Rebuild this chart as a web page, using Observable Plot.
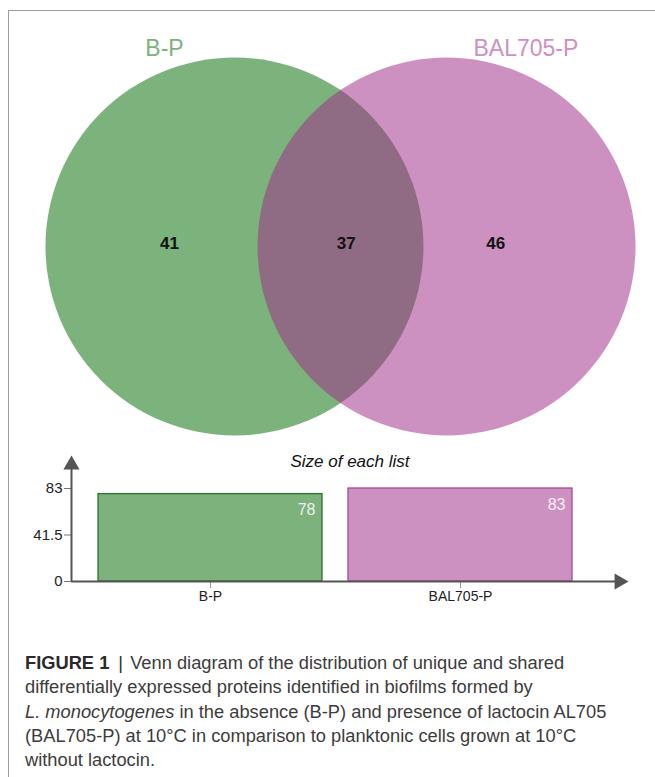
<!DOCTYPE html>
<html><head><meta charset="utf-8">
<script src="https://cdn.jsdelivr.net/npm/d3@7"></script>
<script src="https://cdn.jsdelivr.net/npm/@observablehq/plot@0.6"></script>
<style>
body{margin:0;background:#fff;width:655px;height:777px;overflow:hidden;position:relative;font-family:"Liberation Sans",Arial,sans-serif;}
#frame{position:absolute;left:8px;top:10px;width:700px;height:800px;border-left:1.5px solid #9c9c9c;border-top:1.5px solid #9c9c9c;}
#venn{position:absolute;left:0;top:0;}
#bars{position:absolute;left:0;top:440px;}
#caption{position:absolute;left:25px;top:651px;width:630px;font-family:"Liberation Sans",Arial,sans-serif;font-weight:400;font-size:18.3px;line-height:24.3px;color:#3c3c3c;white-space:nowrap;}
#caption b{font-weight:700;color:#2a2a2a;}
#caption .sep{font-weight:400;margin:0 2px 0 9px;color:#2a2a2a;}
svg{overflow:visible;}
</style></head><body>
<div id="frame"></div>
<div id="venn"></div>
<div id="bars"></div>
<div id="caption"><b>FIGURE 1</b><span class="sep">|</span> Venn diagram of the distribution of unique and shared<br>differentially expressed proteins identified in biofilms formed by<br><i>L. monocytogenes</i> in the absence (B-P) and presence of lactocin AL705<br>(BAL705-P) at 10°C in comparison to planktonic cells grown at 10°C<br>without lactocin.</div>
<script>
// ---- data ----
const setNames = ["B-P", "BAL705-P"];
const uniqueCounts = [41, 46];
const sharedCount = 37;
const listSizes = [78, 83];
const yTicks = [0, 41.5, 83];
const barTitle = "Size of each list";

// ---- styles ----
const setColors = ["#7cb27c", "#cd91c1"];
const barStrokes = ["#2f6e2f", "#a5479a"];

// ---- Venn layout (unit circles) ----
const sep = 1.122;               // distance between circle centres (radius = 1)
const centers = [-sep / 2, sep / 2];
const circles = setNames.map((name, i) => ({name, cx: centers[i], cy: 0, r: 1}));
const setLabels = setNames.map((name, i) => ({name, x: centers[i] + (i === 0 ? -0.37 : 0.42), y: 1.048, color: setColors[i]}));
const regionCounts = [
  {v: uniqueCounts[0], x: centers[0] - 0.344},
  {v: sharedCount, x: 0.03},
  {v: uniqueCounts[1], x: centers[1] + 0.26}
];

const venn = Plot.plot({
  width: 655, height: 440,
  marginLeft: 0, marginRight: 0, marginTop: 0, marginBottom: 0,
  x: {domain: [-340 / 189, 315 / 189], axis: null},
  y: {domain: [-194 / 189, 246 / 189], axis: null},
  r: {type: "linear", domain: [0, 1], range: [0, 189]},
  marks: [
    Plot.dot([circles[0]], {x: "cx", y: "cy", r: "r", fill: setColors[0], stroke: "none"}),
    Plot.dot([circles[1]], {x: "cx", y: "cy", r: "r", fill: "rgb(159,46,137)", fillOpacity: 0.527, stroke: "none"}),
    Plot.text(setLabels, {x: "x", y: "y", text: "name", fill: "color", fontSize: 23, fontFamily: "Liberation Sans, Arial, sans-serif"}),
    Plot.text(regionCounts, {x: "x", y: 0, text: "v", dy: -3, fill: "#111", fontSize: 17, fontWeight: "bold", fontFamily: "Liberation Sans, Arial, sans-serif"})
  ]
});
document.getElementById("venn").appendChild(venn);

// ---- bar chart ----
const bars = setNames.map((name, i) => ({name, i, size: listSizes[i]}));
const half = 0.448;
const xMin = -0.556, xMax = 1.672;
const yTipCenter = 104.2;
const bar = Plot.plot({
  width: 655, height: 180,
  marginLeft: 71, marginRight: 27, marginTop: 48, marginBottom: 39,
  style: {fontFamily: "Liberation Sans, Arial, sans-serif", color: "#222"},
  x: {domain: [xMin, xMax]},
  y: {domain: [0, 83]},
  marks: [
    Plot.rectY(bars, {x1: d => d.i - half, x2: d => d.i + half, y1: 0, y2: "size",
      fill: d => setColors[d.i], stroke: d => barStrokes[d.i], strokeWidth: 1.3}),
    Plot.text(bars, {x: d => d.i + half, y: "size", text: "size", textAnchor: "end", dx: -7, dy: 16, fill: "#f0f0f0", fontSize: 16}),
    Plot.axisY({ticks: yTicks, tickFormat: d => String(d), tickSize: 7, tickPadding: 2, fontSize: 15, label: null, stroke: "#777"}),
    Plot.axisX({ticks: [0, 1], tickFormat: i => setNames[i], tickSize: 7, tickPadding: 3, fontSize: 14, label: null, stroke: "#999"}),
    Plot.ruleX([xMin], {y1: 0, y2: yTipCenter, stroke: "#555", strokeWidth: 2}),
    Plot.ruleY([0], {x1: xMin, x2: xMax - 0.037, stroke: "#555", strokeWidth: 2}),
    Plot.dot([0], {x: xMin, y: yTipCenter, symbol: "triangle", r: 6, fill: "#555", stroke: "none"}),
    Plot.dot([0], {x: xMax - 0.037, y: 0, symbol: "triangle", r: 6, rotate: 90, fill: "#555", stroke: "none"}),
    Plot.text([barTitle], {frameAnchor: "top", dy: -34, fontSize: 17, fontStyle: "italic", fill: "#111"})
  ]
});
document.getElementById("bars").appendChild(bar);
</script>
</body></html>
